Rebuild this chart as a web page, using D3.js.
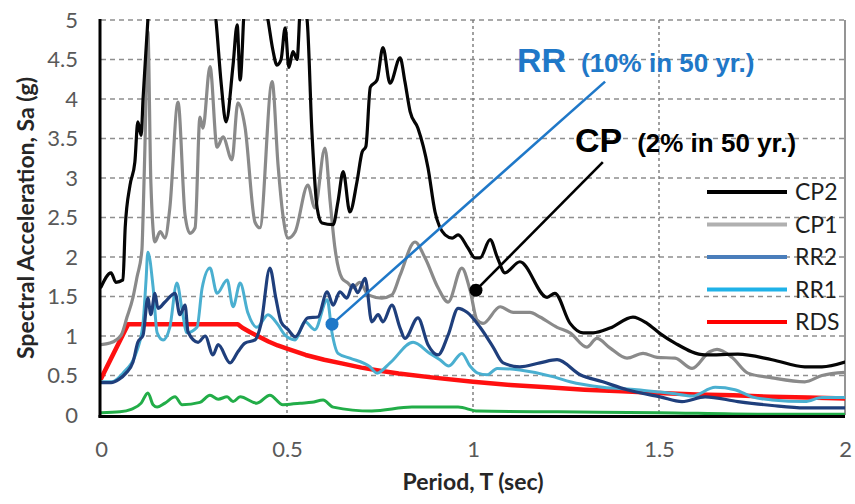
<!DOCTYPE html>
<html>
<head>
<meta charset="utf-8">
<script src="https://cdn.jsdelivr.net/npm/d3@7"></script>
<style>
  body { margin: 0; background: #fff; }
  svg { display: block; }
</style>
</head>
<body>
<svg id="chart" width="855" height="504"></svg>
<script>
// ---- Data: spectral acceleration Sa (g) against period T (sec) ----
const periodTicks = [0, 0.5, 1, 1.5, 2];
const saTicks = [0, 0.5, 1, 1.5, 2, 2.5, 3, 3.5, 4, 4.5, 5];

const seriesNames = ["CP2", "CP1", "RR2", "RR1", "RDS"];

const cp2 = [[0.000,1.62],[0.027,1.80],[0.040,1.68],[0.059,1.71],[0.065,2.37],[0.078,2.91],[0.091,3.20],
  [0.099,3.71],[0.108,3.54],[0.113,4.00],[0.126,5.00],[0.140,6.20],[0.180,6.80],[0.250,6.50],[0.290,5.60],
  [0.309,5.00],[0.323,4.20],[0.336,3.71],[0.355,4.43],[0.366,4.94],[0.374,4.24],[0.387,5.30],[0.414,5.80],
  [0.449,5.00],[0.462,4.62],[0.473,4.43],[0.484,4.50],[0.495,4.90],[0.505,4.40],[0.516,4.60],[0.527,4.50],
  [0.538,5.30],[0.554,5.00],[0.567,3.58],[0.581,2.62],[0.594,2.43],[0.624,2.41],[0.637,2.70],[0.651,3.08],
  [0.669,2.57],[0.688,2.95],[0.702,3.33],[0.712,3.40],[0.724,4.15],[0.742,4.24],[0.758,4.65],[0.777,4.20],
  [0.804,4.52],[0.817,4.22],[0.831,3.84],[0.852,3.63],[0.879,3.13],[0.898,2.57],[0.925,2.28],[0.944,2.24],
  [0.960,2.28],[0.987,2.11],[1.005,1.99],[1.019,1.99],[1.046,2.22],[1.065,2.00],[1.086,1.80],[1.126,1.94],
  [1.199,1.49],[1.220,1.54],[1.261,1.16],[1.296,1.04],[1.323,1.04],[1.368,1.10],[1.430,1.24],[1.468,1.16],
  [1.503,1.03],[1.543,0.91],[1.624,0.76],[1.712,0.77],[1.804,0.70],[1.892,0.61],[1.938,0.61],[2.000,0.67]];

const cp1 = [[0.000,0.89],[0.024,0.91],[0.054,1.01],[0.070,1.24],[0.086,1.49],[0.097,1.75],[0.110,2.09],
  [0.113,2.50],[0.118,3.38],[0.126,4.85],[0.134,2.95],[0.145,2.19],[0.159,2.32],[0.172,2.24],[0.185,2.62],
  [0.207,3.96],[0.226,2.53],[0.239,2.30],[0.253,2.37],[0.266,3.77],[0.274,3.63],[0.293,4.41],[0.312,3.39],
  [0.328,3.52],[0.352,3.23],[0.368,3.95],[0.387,3.65],[0.414,2.44],[0.427,2.37],[0.460,4.22],[0.476,3.16],
  [0.489,2.53],[0.503,2.24],[0.522,2.32],[0.556,2.91],[0.575,2.62],[0.602,3.38],[0.616,2.70],[0.629,2.11],
  [0.648,1.73],[0.664,1.67],[0.677,1.61],[0.696,1.68],[0.718,1.52],[0.755,1.48],[0.782,1.52],[0.804,1.77],
  [0.844,2.19],[0.871,1.99],[0.906,1.61],[0.933,1.43],[0.970,1.86],[0.992,1.58],[1.011,1.20],[1.027,1.16],
  [1.073,1.37],[1.108,1.30],[1.153,1.30],[1.180,1.24],[1.226,1.11],[1.261,1.04],[1.306,0.86],[1.333,0.97],
  [1.368,0.85],[1.414,0.72],[1.457,0.78],[1.495,0.73],[1.543,0.72],[1.589,0.59],[1.636,0.80],[1.656,0.83],
  [1.696,0.73],[1.739,0.53],[1.804,0.47],[1.892,0.42],[1.938,0.50],[2.000,0.54]];

const rr2 = [[0.000,0.41],[0.027,0.41],[0.048,0.45],[0.067,0.53],[0.086,0.67],[0.099,0.92],[0.113,1.01],
  [0.126,1.48],[0.134,1.27],[0.145,1.54],[0.153,1.35],[0.172,1.43],[0.199,1.54],[0.212,1.27],[0.226,1.39],
  [0.234,1.05],[0.261,0.92],[0.280,1.00],[0.301,0.76],[0.315,0.89],[0.347,0.66],[0.368,0.80],[0.387,0.91],
  [0.414,0.95],[0.430,1.15],[0.454,1.86],[0.470,1.48],[0.484,1.18],[0.503,1.08],[0.522,0.99],[0.556,1.23],
  [0.583,1.24],[0.608,1.56],[0.624,1.39],[0.642,1.56],[0.661,1.48],[0.677,1.65],[0.690,1.55],[0.710,1.73],
  [0.728,1.18],[0.745,1.27],[0.758,1.18],[0.782,1.39],[0.804,1.10],[0.817,0.97],[0.852,1.23],[0.879,0.89],
  [0.906,0.76],[0.933,1.01],[0.960,1.35],[0.984,1.30],[1.019,1.11],[1.054,0.86],[1.081,0.66],[1.126,0.61],
  [1.180,0.66],[1.226,0.70],[1.288,0.51],[1.349,0.42],[1.414,0.32],[1.503,0.23],[1.562,0.17],[1.624,0.23],
  [1.712,0.17],[1.804,0.12],[1.892,0.09],[2.000,0.09]];

const rr1 = [[0.000,0.42],[0.030,0.42],[0.059,0.53],[0.097,0.82],[0.113,1.16],[0.121,1.70],[0.126,2.06],
  [0.140,1.62],[0.151,1.04],[0.167,0.95],[0.185,1.11],[0.204,1.67],[0.218,1.33],[0.231,1.04],[0.258,1.11],
  [0.272,1.61],[0.293,1.86],[0.312,1.54],[0.339,1.71],[0.355,1.37],[0.374,1.67],[0.395,1.29],[0.419,1.11],
  [0.449,1.27],[0.476,1.14],[0.495,1.01],[0.522,0.95],[0.548,1.18],[0.575,1.08],[0.608,1.46],[0.621,1.04],
  [0.637,0.78],[0.669,0.72],[0.723,0.61],[0.742,0.53],[0.777,0.66],[0.839,0.92],[0.884,0.78],[0.911,0.70],
  [0.935,0.62],[0.970,0.78],[0.992,0.62],[1.013,0.53],[1.038,0.51],[1.065,0.59],[1.126,0.57],[1.220,0.48],
  [1.261,0.42],[1.349,0.35],[1.441,0.32],[1.503,0.29],[1.543,0.27],[1.589,0.24],[1.651,0.35],[1.704,0.32],
  [1.750,0.23],[1.804,0.19],[1.892,0.17],[1.938,0.22],[2.000,0.22]];

const rds = [[0.000,0.46],[0.073,1.15],[0.368,1.15],[0.380,1.105],[0.400,1.05],[0.425,0.99],[0.450,0.93],
  [0.475,0.88],[0.500,0.84],[0.550,0.76],[0.600,0.70],[0.650,0.65],[0.700,0.60],[0.750,0.56],[0.800,0.525],
  [0.900,0.47],[1.000,0.42],[1.100,0.38],[1.200,0.35],[1.300,0.32],[1.400,0.30],[1.500,0.28],[1.600,0.26],
  [1.700,0.25],[1.800,0.23],[1.900,0.22],[2.000,0.21]];

// Lower-bound record, drawn without a legend entry
const base = [[0.000,0.03],[0.051,0.04],[0.081,0.07],[0.108,0.15],[0.126,0.28],[0.140,0.13],[0.151,0.10],
  [0.172,0.15],[0.199,0.23],[0.218,0.13],[0.266,0.16],[0.293,0.25],[0.315,0.20],[0.339,0.23],[0.355,0.17],
  [0.374,0.23],[0.419,0.15],[0.454,0.25],[0.489,0.13],[0.535,0.15],[0.567,0.16],[0.597,0.19],[0.624,0.10],
  [0.728,0.05],[0.836,0.10],[0.884,0.10],[0.960,0.10],[1.013,0.05],[1.228,0.04],[1.497,0.03],[1.766,0.01],
  [2.000,0.01]];

// ---- Layout ----
const svg = d3.select("#chart");
const plot = { left: 101, right: 845, top: 20, bottom: 415 };
const x = d3.scaleLinear().domain([0, 2]).range([plot.left, plot.right]);
const y = d3.scaleLinear().domain([0, 5]).range([plot.bottom, plot.top]);

const tickFont = "Lato, 'Open Sans', sans-serif";
const gridColor = "#8f8f8f";

// Grid
const grid = svg.append("g");
grid.selectAll("line.h").data(saTicks.filter(d => d > 0)).join("line")
  .attr("x1", plot.left).attr("x2", plot.right)
  .attr("y1", d => y(d)).attr("y2", d => y(d))
  .attr("stroke", gridColor).attr("stroke-width", 1.6).attr("stroke-dasharray", "5,4");
grid.selectAll("line.v").data(periodTicks.filter(d => d > 0 && d < 2)).join("line")
  .attr("y1", plot.top).attr("y2", plot.bottom)
  .attr("x1", d => x(d)).attr("x2", d => x(d))
  .attr("stroke", "#6f6f6f").attr("stroke-width", 1.3).attr("stroke-dasharray", "3,3");
grid.append("line")
  .attr("x1", x(2)).attr("x2", x(2)).attr("y1", plot.top).attr("y2", plot.bottom)
  .attr("stroke", "#7a7a7a").attr("stroke-width", 1.6);

// Axes (labels only; axis lines drawn separately)
const yAxis = svg.append("g")
  .attr("transform", `translate(${plot.left},0)`)
  .call(d3.axisLeft(y).tickValues(saTicks).tickSize(0).tickPadding(23).tickFormat(d3.format("")));
const xAxis = svg.append("g")
  .attr("transform", `translate(0,${plot.bottom})`)
  .call(d3.axisBottom(x).tickValues(periodTicks).tickSize(0).tickPadding(26).tickFormat(d3.format("")));
[yAxis, xAxis].forEach(a => {
  a.select(".domain").remove();
  a.selectAll("text").attr("fill", "#595959").style("font-family", tickFont).style("font-size", "22px");
});

// Series lines
const smoothLine = d3.line()
  .x(d => x(d[0])).y(d => y(d[1]))
  .curve(d3.curveMonotoneX);
const straightLine = d3.line()
  .x(d => x(d[0])).y(d => y(d[1]));

svg.append("clipPath").attr("id", "plot-clip")
  .append("rect").attr("x", plot.left).attr("y", plot.top - 1)
  .attr("width", plot.right - plot.left).attr("height", plot.bottom - plot.top + 1);

const lines = svg.append("g").attr("clip-path", "url(#plot-clip)")
  .attr("fill", "none").attr("stroke-linejoin", "round").attr("stroke-linecap", "round");

const drawOrder = [
  { data: base, color: "#22ad48", width: 3, gen: smoothLine },
  { data: rds,  color: "#ff1010", width: 4.5, gen: straightLine },
  { data: cp1,  color: "#8a8a8a", width: 3.2, gen: smoothLine },
  { data: cp2,  color: "#050505", width: 3.2, gen: smoothLine },
  { data: rr1,  color: "#4aafd0", width: 3, gen: smoothLine },
  { data: rr2,  color: "#1f3f7c", width: 3.2, gen: smoothLine }
];
drawOrder.forEach(s => {
  lines.append("path").datum(s.data)
    .attr("d", s.gen).attr("stroke", s.color).attr("stroke-width", s.width);
});

// Axis lines
svg.append("line").attr("x1", plot.left - 1).attr("x2", plot.left - 1)
  .attr("y1", plot.top - 1).attr("y2", plot.bottom + 2.5)
  .attr("stroke", "#000").attr("stroke-width", 3);
svg.append("line").attr("x1", plot.left - 2.5).attr("x2", plot.right)
  .attr("y1", plot.bottom + 1.5).attr("y2", plot.bottom + 1.5)
  .attr("stroke", "#000").attr("stroke-width", 3);

// Axis titles
svg.append("text")
  .attr("x", (x(0) + x(2)) / 2).attr("y", 490)
  .attr("text-anchor", "middle")
  .attr("fill", "#262626").style("font-family", tickFont)
  .style("font-size", "23px").style("font-weight", "bold")
  .text("Period, T (sec)");
svg.append("text")
  .attr("transform", "translate(34,218) rotate(-90)")
  .attr("text-anchor", "middle")
  .attr("fill", "#262626").style("font-family", tickFont)
  .style("font-size", "23px").style("font-weight", "bold")
  .text("Spectral Acceleration, Sa (g)");

// Hazard level callouts
const calloutFont = "'Liberation Sans', Arial, sans-serif";
const callouts = [
  { name: "RR", note: "(10% in 50 yr.)", color: "#1f78c8", point: [0.621, 1.15], end: [1.355, 4.22], label: [1.118, 4.34] },
  { name: "CP", note: "(2% in 50 yr.)", color: "#000000", point: [1.008, 1.58], end: [1.349, 3.20], label: [1.274, 3.33] }
];
callouts.forEach(c => {
  svg.append("line")
    .attr("x1", x(c.point[0])).attr("y1", y(c.point[1]))
    .attr("x2", x(c.end[0])).attr("y2", y(c.end[1]))
    .attr("stroke", c.color).attr("stroke-width", 2.6);
  svg.append("circle")
    .attr("cx", x(c.point[0])).attr("cy", y(c.point[1])).attr("r", 6.5)
    .attr("fill", c.color);
  const t = svg.append("text")
    .attr("x", x(c.label[0])).attr("y", y(c.label[1]))
    .attr("fill", c.color).style("font-family", calloutFont).style("font-weight", "bold");
  t.append("tspan").style("font-size", "34px").text(c.name);
  t.append("tspan").attr("dx", 15).style("font-size", "26px").text(c.note);
});

// Legend
const legendStyles = {
  CP2: "#000000", CP1: "#b0b0b0", RR2: "#4a7ebb", RR1: "#1fb2e8", RDS: "#ff0000"
};
const legend = svg.append("g").attr("transform", "translate(707,192)");
seriesNames.forEach((name, i) => {
  const g = legend.append("g").attr("transform", `translate(0,${i * 32.5})`);
  g.append("line").attr("x1", 0).attr("x2", 80).attr("y1", 0).attr("y2", 0)
    .attr("stroke", legendStyles[name]).attr("stroke-width", 4);
  g.append("text").attr("x", 88).attr("y", 0).attr("dy", "0.35em")
    .attr("fill", "#1e1e1e").style("font-family", tickFont).style("font-size", "23px")
    .text(name);
});
</script>
</body>
</html>
